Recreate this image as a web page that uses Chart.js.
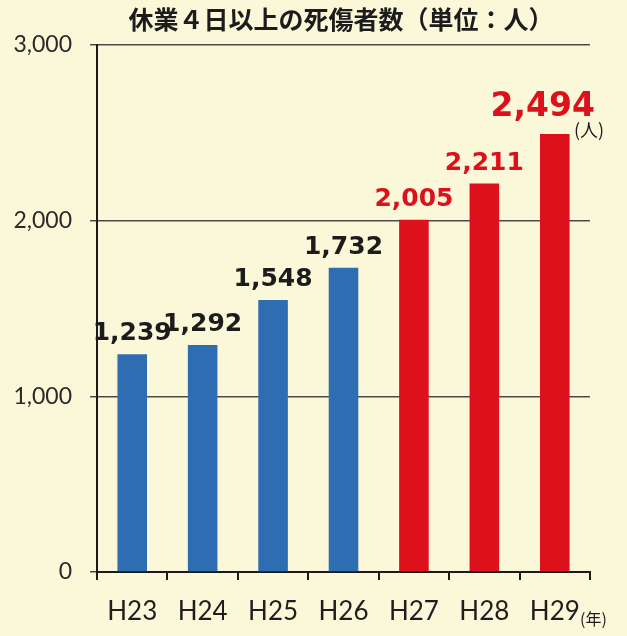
<!DOCTYPE html>
<html>
<head>
<meta charset="utf-8">
<script src="https://cdn.jsdelivr.net/npm/chart.js@4"></script>
<style>
  body { margin: 0; background: #fbf8da; }
  #wrap { width: 627px; height: 636px; }
</style>
</head>
<body>
<div id="wrap"><canvas id="injuryChart"></canvas></div>
<script>
// data
const years = ['H23', 'H24', 'H25', 'H26', 'H27', 'H28', 'H29'];
const casualties = [1239, 1292, 1548, 1732, 2005, 2211, 2494];
const yTicks = [0, 1000, 2000, 3000];

const BLUE = '#2f6db3';
const RED = '#dc111b';

const barColors = casualties.map((v, i) => i < 4 ? BLUE : RED);

// background + title + value labels + unit labels
const decorations = {
    id: 'decorations',
    beforeDraw(chart) {
        const c = chart.ctx;
        c.save();
        c.fillStyle = '#fbf8da';
        c.fillRect(0, 0, chart.width, chart.height);
        c.restore();
    },
    afterDatasetsDraw(chart) {
        const c = chart.ctx;
        const meta = chart.getDatasetMeta(0);
        c.save();
        c.textAlign = 'center';
        c.textBaseline = 'alphabetic';
        meta.data.forEach((bar, i) => {
            const big = i === casualties.length - 1;
            c.font = 'bold ' + (big ? 33 : 25) + 'px "DejaVu Sans"';
            c.fillStyle = i < 4 ? '#1c1c1c' : RED;
            // the last label sits a little left so it clears the unit mark
            c.fillText(casualties[i].toLocaleString('en-US'), bar.x - (big ? 12 : 0), bar.y - (big ? 18 : 14));
        });

        // title
        c.fillStyle = '#1c1c1c';
        c.font = 'bold 25px "Noto Sans CJK JP"';
        c.fillText('休業４日以上の死傷者数（単位：人）', 341, 29);

        // units
        c.font = '18px "Noto Sans CJK JP"';
        c.textAlign = 'left';
        c.fillText('(人)', 574, 137);
        c.font = '16px "Noto Sans CJK JP"';
        c.fillText('(年)', 580, 625);
        c.restore();
    }
};

const ctx = document.getElementById('injuryChart').getContext('2d');
new Chart(ctx, {
    type: 'bar',
    data: {
        labels: years,
        datasets: [{
            data: casualties,
            backgroundColor: barColors,
            borderWidth: 0,
            barPercentage: 0.84,
            categoryPercentage: 0.5
        }]
    },
    options: {
        responsive: true,
        maintainAspectRatio: false,
        animation: false,
        layout: {
            padding: { top: 45, right: 37, left: 0, bottom: 0 }
        },
        plugins: {
            legend: { display: false },
            tooltip: { enabled: false }
        },
        scales: {
            x: {
                afterFit: s => { s.height = 64; },
                grid: {
                    offset: true,
                    drawOnChartArea: false,
                    drawTicks: true,
                    tickLength: 8,
                    color: '#1a1a1a',
                    lineWidth: 2
                },
                border: { color: '#1a1a1a', width: 2 },
                ticks: {
                    color: '#1e1e1e',
                    padding: 16,
                    font: { family: 'Lato', size: 26 }
                }
            },
            y: {
                min: 0,
                max: 3000,
                afterFit: s => { s.width = 97; },
                afterBuildTicks: s => { s.ticks = yTicks.map(v => ({ value: v })); },
                grid: {
                    color: '#4a4a4a',
                    lineWidth: 1.5,
                    tickLength: 7
                },
                border: { color: '#1a1a1a', width: 2 },
                ticks: {
                    color: '#2a2a2a',
                    padding: 18,
                    font: { family: 'Lato', size: 23 },
                    callback: v => v.toLocaleString('en-US')
                }
            }
        }
    },
    plugins: [decorations]
});
</script>
</body>
</html>
